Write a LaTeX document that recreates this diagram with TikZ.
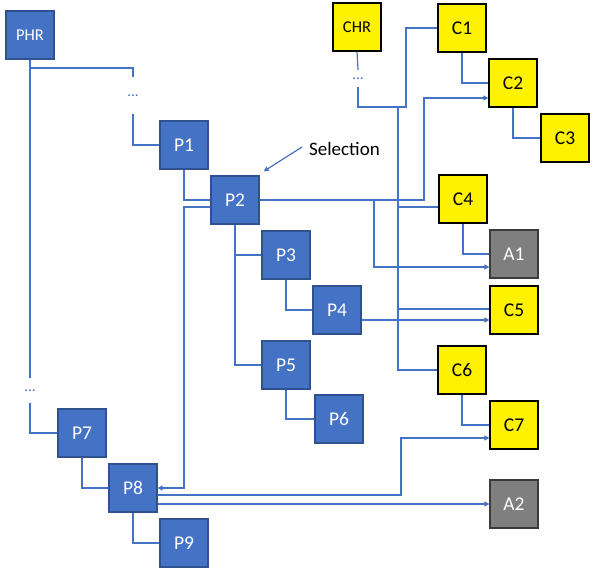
\documentclass[tikz,border=0pt]{standalone}
\usepackage{fontspec}
\setmainfont{Carlito}
\usetikzlibrary{arrows.meta,calc}
\definecolor{lnblue}{HTML}{4472C4}
\definecolor{pfill}{HTML}{4472C4}
\definecolor{pdraw}{HTML}{2F528F}
\definecolor{gfill}{HTML}{7F7F7F}
\definecolor{gdraw}{HTML}{3A3A3A}
\tikzset{
  box/.style={minimum width=48pt,minimum height=48pt,inner sep=0pt,line width=1.3pt,font=\fontsize{19.5}{21}\selectfont},
  pbox/.style={box,fill=pfill,draw=pdraw,text=white},
  cbox/.style={box,fill=yellow,draw=black,text=black},
  abox/.style={box,fill=gfill,draw=gdraw,text=white},
  rootbox/.style={font=\fontsize{16.5}{18}\selectfont},
  ln/.style={draw=lnblue,line width=1.2pt},
  arr/.style={ln,-{Triangle[length=5pt,width=5pt]}},
  dotsnode/.style={text=lnblue,inner sep=0pt,minimum height=25pt,font=\fontsize{15}{15}\selectfont},
}
\begin{document}
\begin{tikzpicture}[x=1pt,y=-1pt]
\useasboundingbox (0,0) rectangle (596,571);
% nodes
\node[pbox,rootbox] (phr) at (30,35) {PHR};
\node[pbox] (p1) at (184,145) {P1};
\node[pbox] (p2) at (235,200) {P2};
\node[pbox] (p3) at (286,255) {P3};
\node[pbox] (p4) at (337,310) {P4};
\node[pbox] (p5) at (286,365) {P5};
\node[pbox] (p6) at (339,419) {P6};
\node[pbox] (p7) at (82,433) {P7};
\node[pbox] (p8) at (133,488) {P8};
\node[pbox] (p9) at (184,543) {P9};
\node[cbox,rootbox] (chr) at (357,27) {CHR};
\node[cbox] (c1) at (462,28) {C1};
\node[cbox] (c2) at (513,83) {C2};
\node[cbox] (c3) at (565,138) {C3};
\node[cbox] (c4) at (463,199) {C4};
\node[abox] (a1) at (514,254) {A1};
\node[cbox] (c5) at (514,310) {C5};
\node[cbox] (c6) at (462,370) {C6};
\node[cbox] (c7) at (514,425) {C7};
\node[abox] (a2) at (514,504) {A2};
\node[dotsnode,minimum height=37pt] (d1) at (133,95.5) {...};
\node[dotsnode,minimum height=17pt] (d2) at (358,78.5) {...};
\node[dotsnode,minimum height=25pt] (d3) at (30,390.5) {...};
\node[font=\fontsize{19}{21}\selectfont,anchor=west,inner sep=0pt] (sel) at (309,149) {Selection};
% junctions
\coordinate (jphr) at (30,68);
\coordinate (jchr) at (406,107);
\coordinate (jv) at (398,107);
\coordinate (jp2) at (374,200);
\coordinate (kc2) at (424,98);
\coordinate (kc7) at (401,438);
\coordinate (kp8) at (184,488);
% PHR tree
\draw[ln] (phr.south) -- (d3.north);
\draw[ln] (jphr) -| (d1.north);
\draw[ln] (d1.south) |- (p1.west);
\draw[ln] (d3.south) |- (p7.west);
\draw[ln] (p1.south) |- (p2.west);
\draw[ln] (p2.south) |- (p3.west);
\draw[ln] (p2.south) |- (p5.west);
\draw[ln] (p3.south) |- (p4.west);
\draw[ln] (p5.south) |- (p6.west);
\draw[ln] (p7.south) |- (p8.west);
\draw[ln] (p8.south) |- (p9.west);
% CHR tree
\draw[ln] (chr.south) -- (d2.north);
\draw[ln] (d2.south) |- (jchr) |- (c1.west);
\draw[ln] (jv) |- (c6.west);
\draw[ln] (jv |- c4.west) ++(0,8) -- ([yshift=-8pt]c4.west);
\draw[ln] (jv |- c5.west) ++(0,-1) -- ([yshift=1pt]c5.west);
\draw[ln] (c1.south) |- (c2.west);
\draw[ln] (c2.south) |- (c3.west);
\draw[ln] (c4.south) |- (a1.west);
\draw[ln] (c6.south) |- (c7.west);
% arrows
\draw[arr] ([yshift=-7pt]p2.west) -| (kp8) -- (p8.east);
\draw[arr] (p2.east) -| (kc2) -- (c2.west |- kc2);
\draw[arr] (jp2) |- ([yshift=-13pt]a1.west);
\draw[arr] ([yshift=-10pt]p4.east) -- ([yshift=-10pt]c5.west);
\draw[arr] ([yshift=-7pt]p8.east) -| (kc7) -- (c7.west |- kc7);
\draw[arr] (p8.east |- a2.west) -- (a2.west);
\draw[arr] ([xshift=-7pt,yshift=2pt]sel.west) -- ([shift={(4pt,4pt)}]p2.north east);
\end{tikzpicture}
\end{document}
